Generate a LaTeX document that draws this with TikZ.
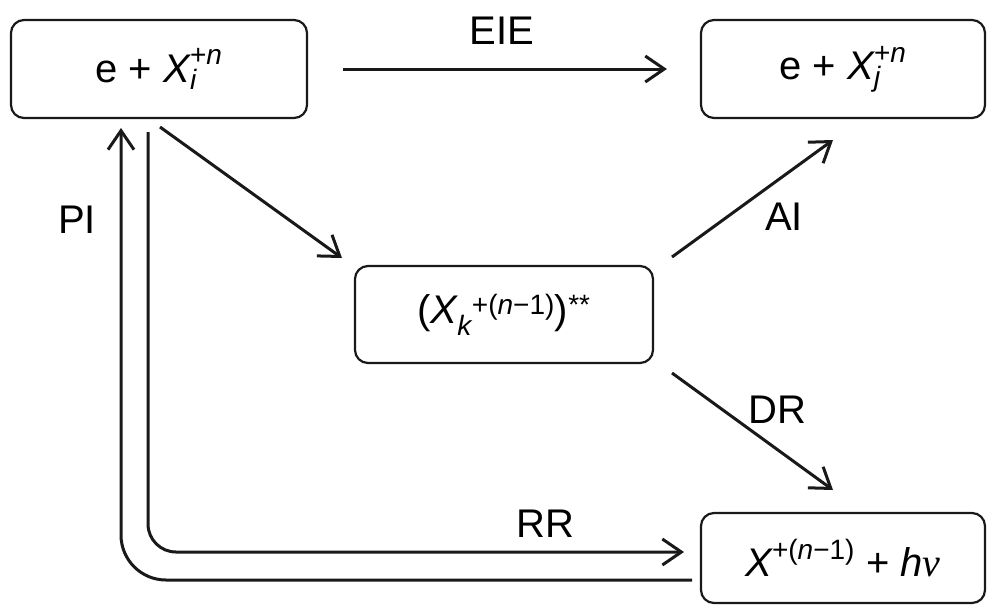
\documentclass[tikz,border=0pt]{standalone}
\usepackage{amsmath}
\usepackage{fontspec}
\setmainfont{Liberation Sans}
\newfontfamily\nufont{Liberation Serif}
\usetikzlibrary{arrows.meta,calc}
\newcommand{\mI}[1]{\textit{#1}}
\newcommand{\mT}[1]{\text{#1}}
\begin{document}
\begin{tikzpicture}[x=1pt,y=-1pt,
  box/.style={draw=black!90, line width=2.2pt, rounded corners=13pt, inner sep=0pt, font=\fontsize{40}{48}\selectfont},
  lbl/.style={inner sep=0pt, font=\fontsize{40}{48}\selectfont},
  arr/.style={line width=3pt, draw=black!90, -{Straight Barb[length=19pt,width=26pt,line width=3pt]}}
]
\useasboundingbox (0,0) rectangle (987,606);
% boxes
\node[box, minimum width=296pt, minimum height=98pt] (A) at (159,69) {e + $\mI{X}_{\mI{i}}^{\mT{+}\mI{n}}$};
\node[box, minimum width=284pt, minimum height=98pt] (B) at (843,69) {e + $\mI{X}_{\mI{j}}^{\mT{+}\mI{n}}$};
\node[box, minimum width=298pt, minimum height=97pt] (C) at (504,314.5) {($\mI{X}_{\mI{k}}{}^{\mT{+(}\mI{n}\mT{−1)}}$)$^{\mT{**}}$};
\node[box, minimum width=284pt, minimum height=90pt] (D) at (843,558) {$\mI{X}^{\mT{+(}\mI{n}\mT{−1)}}$ + \mI{h}{\nufont\itshape ν}};
% labels
\node[lbl] (eie) at (502,31) {EIE};
\node[lbl] (pi) at (77,220) {PI};
\node[lbl] (ai) at (784,217) {AI};
\node[lbl] (dr) at (777,410) {DR};
\node[lbl] (rr) at (545,524) {RR};
% connector end points
\coordinate (eieS) at ($(A.east)+(35,0)$);
\coordinate (eieE) at ($(B.west)+(-33,0)$);
\coordinate (acS) at (160,127);
\coordinate (acE) at (342,258);
\coordinate (cbS) at (672,257);
\coordinate (cbE) at (833,140);
\coordinate (cdS) at (672,373);
\coordinate (cdE) at (833,490);
\coordinate (piS) at (692,580);
\coordinate (piE) at (121,128);
\coordinate (rrS) at (148,132);
\coordinate (rrE) at (684,552);
% connectors
\draw[arr] (eieS) -- (eieE);
\draw[arr] (acS) -- (acE);
\draw[arr] (cbS) -- (cbE);
\draw[arr] (cdS) -- (cdE);
\draw[arr, rounded corners=45pt] (piS) -| (piE);
\draw[arr, rounded corners=28pt] (rrS) |- (rrE);
\end{tikzpicture}
\end{document}
